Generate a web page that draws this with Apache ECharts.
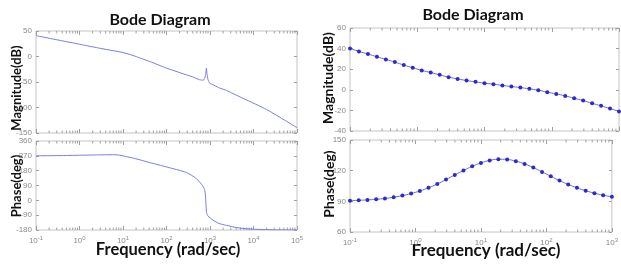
<!DOCTYPE html>
<html>
<head>
<meta charset="utf-8">
<script src="https://cdn.jsdelivr.net/npm/echarts@6/dist/echarts.min.js"></script>
<style>
  html, body { margin: 0; padding: 0; background: #fff; }
  #chart { width: 621px; height: 266px; }
</style>
</head>
<body>
<div id="chart"></div>
<script>
// left diagram (continuous line)
const leftMagFreq = [0.1, 0.2, 0.5, 1.2, 3, 6, 10, 17, 25, 41, 65, 99, 150, 239, 400, 576, 700, 760, 800, 826, 850, 900, 980, 1300, 1660, 2400, 3380, 6000, 20000, 100000]
const leftMagDb = [40.9, 35.8, 29.1, 22.7, 16, 11.3, 7.8, 2, -3.1, -9.7, -16.5, -22.7, -27.9, -33.8, -40, -45.5, -46.5, -42, -33, -23, -33, -45, -52, -57.3, -61.7, -66.5, -72.7, -82.8, -103.9, -139.6]
const leftPhaseFreq = [0.1, 0.5, 1.2, 3, 5.8, 8.3, 20, 41, 99, 286, 486, 692, 760, 790, 810, 835, 900, 1170, 1600, 2390, 4000, 8130, 30000, 100000]
const leftPhaseDeg = [270, 272, 274, 276, 277, 274, 252, 229, 203, 169, 132, 85, 60, 20, -30, -75, -95, -120, -140, -152, -165, -174, -179, -180]

// right diagram (line with markers)
const rightFreq = [0.1, 0.1359, 0.1848, 0.2512, 0.3415, 0.4642, 0.631, 0.8577, 1.166, 1.585, 2.154, 2.929, 3.981, 5.412, 7.356, 10, 13.59, 18.48, 25.12, 34.15, 46.42, 63.1, 85.77, 116.6, 158.5, 215.4, 292.9, 398.1, 541.2, 735.6, 1000]
const rightMagDb = [40.2, 37.3, 34.7, 32.1, 29.5, 26.9, 24.0, 21.4, 18.8, 16.8, 14.5, 12.3, 10.6, 9.0, 7.7, 6.4, 5.5, 4.2, 3.2, 2.2, 0.9, -0.4, -2.3, -4.0, -5.9, -8.2, -10.5, -13.1, -15.6, -18.2, -21]
const rightPhaseDeg = [90.6, 91, 91.4, 92, 92.8, 94, 95.6, 97.6, 100.2, 103.3, 107, 111.3, 115.8, 120.2, 124.2, 127.6, 130, 131.2, 130.9, 129.3, 126.6, 123, 118.8, 114.5, 110.3, 106.5, 103.2, 100.4, 98, 96, 94.5]

const leftMagTicks = [-150, -100, -50, 0, 50]
const leftPhaseTicks = [-180, -90, 0, 90, 180, 270, 360]
const rightMagTicks = [-40, -20, 0, 20, 40, 60]
const rightPhaseTicks = [60, 90, 120, 150]

const gridColor = '#c4c4c4'
const labelColor = '#8a8a8a'
const tickColor = '#a0a0a0'

function pairs(xs, ys) {
  return xs.map((x, i) => [x, ys[i]])
}

// 2..9 x 10^n between the decades, for the small ticks on the log axes
function minorTicks(lo, hi) {
  const out = []
  for (let e = lo; e < hi; e++) {
    for (let m = 2; m <= 9; m++) out.push(m * Math.pow(10, e))
  }
  return out
}

function xAxisCfg(gridIndex, min, max, showLabels, position) {
  return {
    type: 'log', logBase: 10, gridIndex, min, max, position,
    axisLine: { show: false, onZero: false },
    axisTick: { show: true, inside: true, length: 4, lineStyle: { color: tickColor } },
    splitLine: { show: false },
    axisLabel: {
      show: showLabels, margin: 5,
      formatter: v => '{b|10}{e|' + Math.round(Math.log10(v)) + '}',
      rich: {
        b: { fontSize: 8, color: labelColor, fontFamily: 'Liberation Sans' },
        e: { fontSize: 6, color: labelColor, fontFamily: 'Liberation Sans', verticalAlign: 'top', padding: [0, 0, 6, 0] }
      }
    }
  }
}

function yAxisCfg(gridIndex, ticks, position) {
  return {
    type: 'value', gridIndex, position,
    min: ticks[0], max: ticks[ticks.length - 1],
    interval: ticks[1] - ticks[0],
    axisLine: { show: false, onZero: false },
    axisTick: { show: true, inside: true, length: 3, lineStyle: { color: tickColor } },
    splitLine: { show: false },
    axisLabel: { show: position === 'left', fontSize: 8, color: labelColor, margin: 4, fontFamily: 'Liberation Sans' }
  }
}

function minorSeries(idx, lo, hi, yTop, yBottom) {
  return {
    type: 'custom', xAxisIndex: idx, yAxisIndex: idx, silent: true,
    data: minorTicks(lo, hi).map(f => [f]),
    renderItem(params, api) {
      const top = api.coord([api.value(0), yTop])
      const bot = api.coord([api.value(0), yBottom])
      const st = { stroke: tickColor, lineWidth: 1 }
      return {
        type: 'group',
        children: [
          { type: 'line', shape: { x1: top[0], y1: top[1], x2: top[0], y2: top[1] + 2.5 }, style: st },
          { type: 'line', shape: { x1: bot[0], y1: bot[1], x2: bot[0], y2: bot[1] - 2.5 }, style: st }
        ]
      }
    }
  }
}

const chart = echarts.init(document.getElementById('chart'), null, { renderer: 'canvas' })

const boldText = (text, x, y, size, rotate) => ({
  type: 'text', x, y, rotation: rotate ? Math.PI / 2 : 0,
  style: {
    text, fill: '#111', font: 'bold ' + size + 'px Lato',
    textAlign: 'center', textVerticalAlign: 'middle'
  }
})

chart.setOption({
  animation: false,
  grid: [
    { left: 36, top: 31, width: 261, height: 102, show: true, borderColor: gridColor, borderWidth: 1 },
    { left: 36, top: 141, width: 261, height: 89, show: true, borderColor: gridColor, borderWidth: 1 },
    { left: 350, top: 28, width: 269, height: 103, show: true, borderColor: gridColor, borderWidth: 1 },
    { left: 350, top: 140, width: 269, height: 92, show: true, borderColor: gridColor, borderWidth: 1 }
  ],
  xAxis: [
    xAxisCfg(0, 0.1, 100000, false, 'bottom'),
    xAxisCfg(1, 0.1, 100000, true, 'bottom'),
    xAxisCfg(2, 0.1, 1000, false, 'bottom'),
    xAxisCfg(3, 0.1, 1000, true, 'bottom'),
    xAxisCfg(0, 0.1, 100000, false, 'top'),
    xAxisCfg(1, 0.1, 100000, false, 'top'),
    xAxisCfg(2, 0.1, 1000, false, 'top'),
    xAxisCfg(3, 0.1, 1000, false, 'top')
  ],
  yAxis: [
    yAxisCfg(0, leftMagTicks, 'left'),
    yAxisCfg(1, leftPhaseTicks, 'left'),
    yAxisCfg(2, rightMagTicks, 'left'),
    yAxisCfg(3, rightPhaseTicks, 'left'),
    yAxisCfg(0, leftMagTicks, 'right'),
    yAxisCfg(1, leftPhaseTicks, 'right'),
    yAxisCfg(2, rightMagTicks, 'right'),
    yAxisCfg(3, rightPhaseTicks, 'right')
  ],
  graphic: [
    boldText('Bode Diagram', 160, 20, 16),
    boldText('Frequency (rad/sec)', 168, 250, 16.5),
    boldText('Magnitude(dB)', 17, 88, 13, true),
    boldText('Phase(deg)', 17, 186, 13, true),
    boldText('Bode Diagram', 473, 15, 16),
    boldText('Frequency (rad/sec)', 486, 251, 17),
    boldText('Magnitude(dB)', 328, 78, 14, true),
    boldText('Phase(deg)', 329, 184, 14, true)
  ],
  series: [
    {
      type: 'line', xAxisIndex: 0, yAxisIndex: 0, showSymbol: false, smooth: 0.2,
      lineStyle: { color: '#7a7ae8', width: 1 },
      data: pairs(leftMagFreq, leftMagDb)
    },
    {
      type: 'line', xAxisIndex: 1, yAxisIndex: 1, showSymbol: false, smooth: 0.2,
      lineStyle: { color: '#7a7ae8', width: 1 },
      data: pairs(leftPhaseFreq, leftPhaseDeg)
    },
    {
      type: 'line', xAxisIndex: 2, yAxisIndex: 2, symbol: 'circle', symbolSize: 4, smooth: true,
      itemStyle: { color: '#2a2ad0' },
      lineStyle: { color: '#6a6ae0', width: 1 },
      data: pairs(rightFreq, rightMagDb)
    },
    {
      type: 'line', xAxisIndex: 3, yAxisIndex: 3, symbol: 'circle', symbolSize: 4, smooth: true,
      itemStyle: { color: '#2a2ad0' },
      lineStyle: { color: '#6a6ae0', width: 1 },
      data: pairs(rightFreq, rightPhaseDeg)
    },
    minorSeries(0, -1, 5, 50, -150),
    minorSeries(1, -1, 5, 360, -180),
    minorSeries(2, -1, 3, 60, -40),
    minorSeries(3, -1, 3, 150, 60)
  ]
})
</script>
</body>
</html>
